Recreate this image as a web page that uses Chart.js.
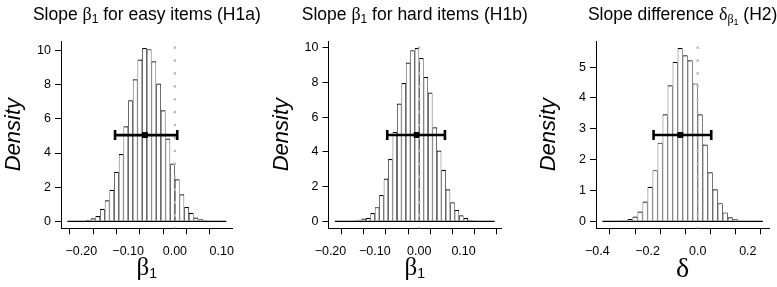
<!DOCTYPE html>
<html>
<head>
<meta charset="utf-8">
<script src="https://cdn.jsdelivr.net/npm/chart.js@4.4.1/dist/chart.umd.min.js"></script>
<style>
    body { margin: 0; background: #fff; width: 777px; height: 287px; overflow: hidden; position: relative; }
    canvas { position: absolute; top: 0; left: 0; }
</style>
</head>
<body>
<canvas id="grafico1"></canvas>
<canvas id="grafico2"></canvas>
<canvas id="grafico3"></canvas>
<script>
// ---- dados ----
// slope beta1, itens faceis (H1a) - limite inferior de cada classe, largura 0.01
var classesFaceis = [-0.23, -0.22, -0.21, -0.20, -0.19, -0.18, -0.17, -0.16, -0.15, -0.14, -0.13, -0.12,
    -0.11, -0.10, -0.09, -0.08, -0.07, -0.06, -0.05, -0.04, -0.03, -0.02, -0.01, 0.00, 0.01, 0.02,
    0.03, 0.04, 0.05, 0.06, 0.07, 0.08, 0.09, 0.10];
var densidadeFaceis = [0.005, 0.01, 0.02, 0.04, 0.08, 0.18, 0.31, 0.74, 1.23, 1.85, 2.9, 3.94,
    5.57, 7.09, 8.32, 9.47, 10.15, 10.08, 9.37, 8.07, 6.5, 4.85, 3.39, 2.46, 1.58, 0.84,
    0.5, 0.23, 0.12, 0.06, 0.03, 0.02, 0.01, 0.005];

// slope beta1, itens dificeis (H1b)
var classesDificeis = [-0.19, -0.18, -0.17, -0.16, -0.15, -0.14, -0.13, -0.12, -0.11, -0.10, -0.09, -0.08,
    -0.07, -0.06, -0.05, -0.04, -0.03, -0.02, -0.01, 0.00, 0.01, 0.02, 0.03, 0.04, 0.05, 0.06,
    0.07, 0.08, 0.09, 0.10, 0.11, 0.12, 0.13, 0.14, 0.15, 0.16];
var densidadeDificeis = [0.003, 0.005, 0.01, 0.02, 0.05, 0.1, 0.16, 0.21, 0.48, 0.82, 1.52, 2.47,
    3.6, 5.16, 6.8, 7.98, 9.16, 9.87, 10.0, 9.42, 8.33, 7.43, 5.43, 4.08, 2.97, 1.85,
    1.1, 0.66, 0.35, 0.19, 0.1, 0.05, 0.02, 0.01, 0.005, 0.003];

// diferenca delta (H2) - largura 0.02
var classesDiferenca = [-0.38, -0.36, -0.34, -0.32, -0.30, -0.28, -0.26, -0.24, -0.22, -0.20, -0.18, -0.16,
    -0.14, -0.12, -0.10, -0.08, -0.06, -0.04, -0.02, 0.00, 0.02, 0.04, 0.06, 0.08, 0.10, 0.12,
    0.14, 0.16, 0.18, 0.20, 0.22, 0.24];
var densidadeDiferenca = [0.003, 0.005, 0.01, 0.02, 0.04, 0.08, 0.16, 0.32, 0.64, 1.12, 1.66, 2.55,
    3.47, 4.41, 5.17, 5.62, 5.38, 5.22, 4.47, 3.47, 2.49, 1.59, 1.04, 0.59, 0.29, 0.13,
    0.07, 0.03, 0.015, 0.007, 0.003, 0.002];

var larguraClasse = [0.01, 0.01, 0.02];

// intervalos (barra horizontal) - inferior, media, superior, altura
var icInferior = [-0.128, -0.072, -0.176];
var icMedia = [-0.064, -0.006, -0.069];
var icSuperior = [0.005, 0.058, 0.054];
var icAltura = [5.05, 4.98, 2.8];

// ticks
var ticksXFaceis = [-0.20, -0.15, -0.10, -0.05, 0.00, 0.05, 0.10];
var rotulosXFaceis = ['\u22120.20', '', '\u22120.10', '', '0.00', '', '0.10'];
var ticksXDificeis = [-0.20, -0.15, -0.10, -0.05, 0.00, 0.05, 0.10, 0.15];
var rotulosXDificeis = ['\u22120.20', '', '\u22120.10', '', '0.00', '', '0.10', ''];
var ticksXDiferenca = [-0.4, -0.3, -0.2, -0.1, 0.0, 0.1, 0.2];
var rotulosXDiferenca = ['\u22120.4', '', '\u22120.2', '', '0.0', '', '0.2'];
var ticksYFaceis = [0, 2, 4, 6, 8, 10];
var ticksYDificeis = [0, 2, 4, 6, 8, 10];
var ticksYDiferenca = [0, 1, 2, 3, 4, 5];

// ---- fontes ----
var fonteTitulo = '17.5px "Liberation Sans"';
var fonteGregoTitulo = '18px "Liberation Serif"';
var fonteSubTitulo = '12px "Liberation Sans"';
var fonteSubSubTitulo = '9px "Liberation Sans"';
var fonteTick = 12.5;

var titulo1 = [
    { t: 'Slope ', f: fonteTitulo }, { t: '\u03b2', f: fonteGregoTitulo },
    { t: '1', f: fonteSubTitulo, dy: 3 }, { t: ' for easy items (H1a)', f: fonteTitulo }
];
var titulo2 = [
    { t: 'Slope ', f: fonteTitulo }, { t: '\u03b2', f: fonteGregoTitulo },
    { t: '1', f: fonteSubTitulo, dy: 3 }, { t: ' for hard items (H1b)', f: fonteTitulo }
];
var titulo3 = [
    { t: 'Slope difference ', f: fonteTitulo }, { t: '\u03b4', f: fonteGregoTitulo },
    { t: '\u03b2', f: '12px "Liberation Serif"', dy: 3 }, { t: '1', f: fonteSubSubTitulo, dy: 5 },
    { t: ' (H2)', f: fonteTitulo }
];
var rotuloBeta = [{ t: '\u03b2', f: '25px "Liberation Serif"' }, { t: '1', f: '14px "Liberation Sans"', dy: 3 }];
var rotuloDelta = [{ t: '\u03b4', f: '28px "Liberation Serif"' }];

// area de plotagem de cada painel (px na pagina); os canvas ocupam a pagina toda e se sobrepoem
var paineis = [
    { canvas: 'grafico1', plotEsq: 61, plotDir: 232.7 },
    { canvas: 'grafico2', plotEsq: 328.5, plotDir: 501 },
    { canvas: 'grafico3', plotEsq: 596, plotDir: 769.3 }
];
var plotTopo = 41, plotBase = 228.3, larguraCanvas = 777, alturaCanvas = 287, larguraEixoY = 50;

function desenharRico(ctx, partes, cx, y) {
    var total = 0;
    for (var i = 0; i < partes.length; i++) {
        ctx.font = partes[i].f;
        total += ctx.measureText(partes[i].t).width;
    }
    var x = cx - total / 2;
    ctx.textAlign = 'left';
    ctx.textBaseline = 'alphabetic';
    for (var j = 0; j < partes.length; j++) {
        ctx.font = partes[j].f;
        ctx.fillText(partes[j].t, x, y + (partes[j].dy || 0));
        x += ctx.measureText(partes[j].t).width;
    }
}

var textoPainel = {
    id: 'textoPainel',
    afterDraw: function (chart, args, opts) {
        var ctx = chart.ctx, area = chart.chartArea;
        var cx = (area.left + area.right) / 2;
        ctx.save();
        ctx.fillStyle = '#000';
        desenharRico(ctx, opts.titulo, cx, 19.5);
        desenharRico(ctx, opts.rotuloX, cx, opts.baseX);
        ctx.translate(area.left - 47, (area.top + area.bottom) / 2);
        ctx.rotate(-Math.PI / 2);
        ctx.font = 'italic 22px "Liberation Sans"';
        ctx.textAlign = 'center';
        ctx.textBaseline = 'middle';
        ctx.fillText('Density', 0, 0);
        ctx.restore();
    }
};

function criarPainel(n, classes, densidade, ticksX, rotulosX, ticksY, titulo, rotuloX, baseX) {
    var p = paineis[n];
    var w = larguraClasse[n];
    var canvas = document.getElementById(p.canvas);
    canvas.width = larguraCanvas;
    canvas.height = alturaCanvas;
    canvas.style.width = larguraCanvas + 'px';
    canvas.style.height = alturaCanvas + 'px';

    var barras = [];
    for (var i = 0; i < classes.length; i++) {
        barras.push({ x: classes[i] + w / 2, y: densidade[i] });
    }
    var xIni = classes[0], xFim = classes[classes.length - 1] + w;
    var yMax = Math.max.apply(null, densidade);
    // extensao de 4% como no R
    var xMin = xIni - 0.04 * (xFim - xIni), xMax = xFim + 0.04 * (xFim - xIni);
    var yMin = -0.04 * yMax, yTopo = yMax * 1.04;

    var padEsq = p.plotEsq - larguraEixoY;
    var padDir = larguraCanvas - p.plotDir;

    return new Chart(canvas, {
        type: 'bar',
        data: {
            datasets: [
                {
                    type: 'bar', data: barras, order: 5,
                    backgroundColor: '#ffffff', borderColor: '#000000',
                    borderWidth: { top: 1.2, left: 0.75, right: 0.75, bottom: 0 },
                    barPercentage: 1, categoryPercentage: 1, inflateAmount: 0
                },
                {
                    type: 'line', data: [{ x: xIni, y: 0 }, { x: xFim, y: 0 }], order: 4,
                    borderColor: '#000', borderWidth: 1.1, pointRadius: 0
                },
                {
                    type: 'line', data: [{ x: 0, y: yMin }, { x: 0, y: yTopo }], order: 3,
                    borderColor: '#bdbdbd', borderWidth: 2.8, borderDash: [0, 12.9],
                    borderCapStyle: 'round', pointRadius: 0
                },
                {
                    type: 'line', data: [{ x: icInferior[n], y: icAltura[n] }, { x: icSuperior[n], y: icAltura[n] }],
                    order: 2, borderColor: '#000', borderWidth: 2.6, pointRadius: 0
                },
                {
                    type: 'line', data: [{ x: icInferior[n], y: icAltura[n] }, { x: icSuperior[n], y: icAltura[n] }],
                    order: 1, showLine: false, pointStyle: 'line', pointRotation: 90, pointRadius: 5,
                    pointBorderWidth: 2.6, pointBorderColor: '#000'
                },
                {
                    type: 'line', data: [{ x: icMedia[n], y: icAltura[n] }], order: 0, showLine: false,
                    pointStyle: 'rect', pointRadius: 3.5, pointBackgroundColor: '#000', pointBorderColor: '#000',
                    pointBorderWidth: 1
                }
            ]
        },
        options: {
            responsive: false,
            animation: false,
            layout: { padding: { top: plotTopo, left: padEsq, right: padDir, bottom: 0 } },
            plugins: {
                legend: { display: false },
                tooltip: { enabled: false },
                textoPainel: { titulo: titulo, rotuloX: rotuloX, baseX: baseX }
            },
            scales: {
                x: {
                    type: 'linear', min: xMin, max: xMax, offset: false,
                    afterBuildTicks: function (eixo) {
                        eixo.ticks = ticksX.map(function (v) { return { value: v }; });
                    },
                    afterFit: function (eixo) { eixo.height = alturaCanvas - plotBase; },
                    ticks: {
                        autoSkip: false, maxRotation: 0, padding: 10, color: '#000',
                        font: { family: 'Liberation Sans', size: fonteTick },
                        callback: function (valor, indice) { return rotulosX[indice]; }
                    },
                    grid: { drawOnChartArea: false, drawTicks: true, tickLength: 6, tickColor: '#000', tickWidth: 1 },
                    border: { display: true, color: '#000', width: 1 }
                },
                y: {
                    type: 'linear', min: yMin, max: yTopo,
                    afterBuildTicks: function (eixo) {
                        eixo.ticks = ticksY.map(function (v) { return { value: v }; });
                    },
                    afterFit: function (eixo) { eixo.width = larguraEixoY; },
                    ticks: {
                        autoSkip: false, padding: 4, color: '#000',
                        font: { family: 'Liberation Sans', size: fonteTick },
                        callback: function (valor) { return String(valor); }
                    },
                    grid: { drawOnChartArea: false, drawTicks: true, tickLength: 6, tickColor: '#000', tickWidth: 1 },
                    border: { display: true, color: '#000', width: 1 }
                }
            }
        },
        plugins: [textoPainel]
    });
}

criarPainel(0, classesFaceis, densidadeFaceis, ticksXFaceis, rotulosXFaceis, ticksYFaceis, titulo1, rotuloBeta, 275);
criarPainel(1, classesDificeis, densidadeDificeis, ticksXDificeis, rotulosXDificeis, ticksYDificeis, titulo2, rotuloBeta, 275);
criarPainel(2, classesDiferenca, densidadeDiferenca, ticksXDiferenca, rotulosXDiferenca, ticksYDiferenca, titulo3, rotuloDelta, 277);
</script>
</body>
</html>
